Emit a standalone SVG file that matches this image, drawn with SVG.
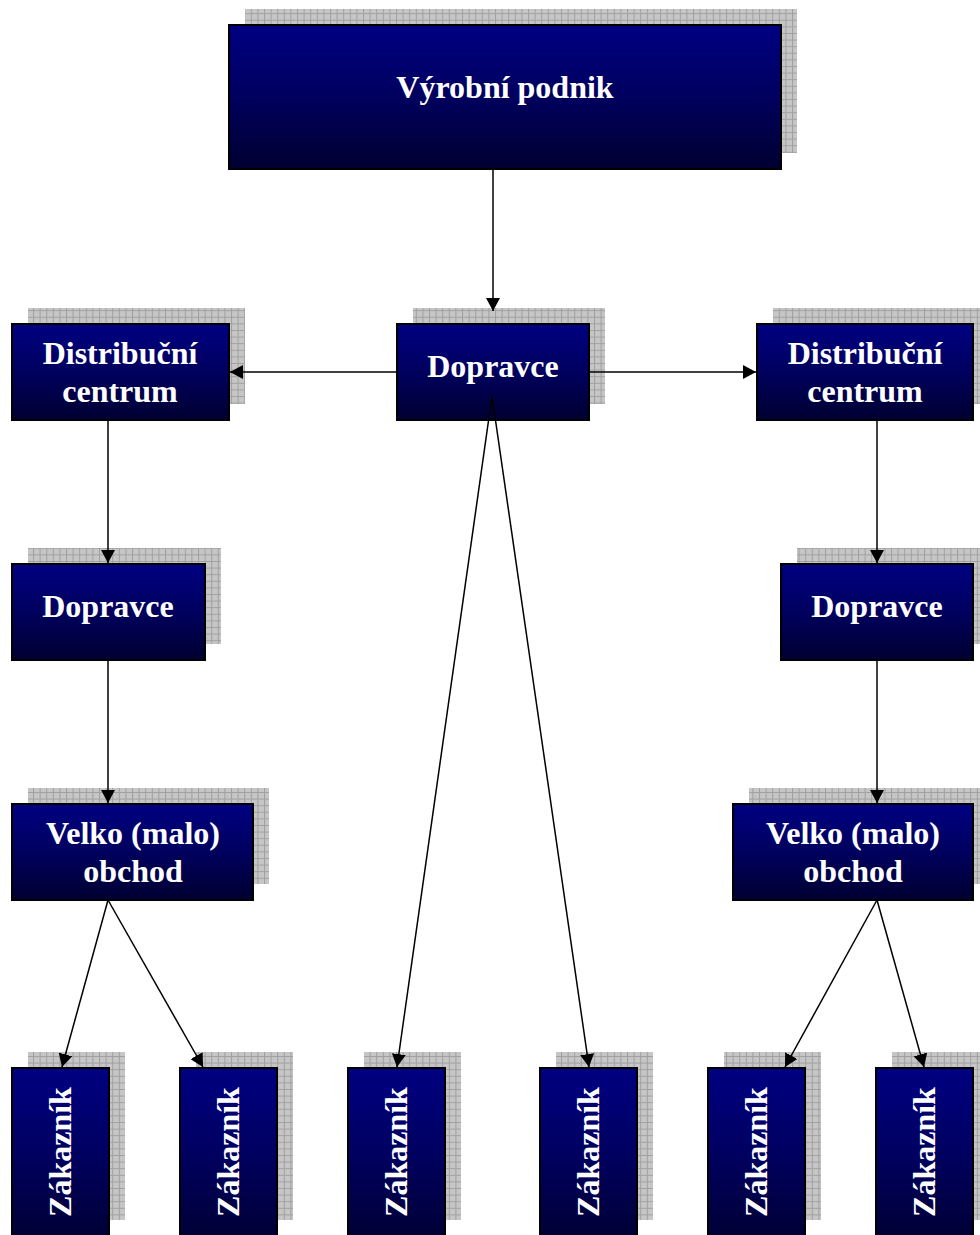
<svg xmlns="http://www.w3.org/2000/svg" width="980" height="1235" viewBox="0 0 980 1235">
  <style>
    .box { fill: url(#navy); stroke: #000; stroke-width: 2; }
    .shadow { fill: url(#grid); }
    .lbl { font-family: "Liberation Serif", "Times New Roman", serif; font-weight: bold; font-size: 32px; fill: #fff; text-anchor: middle; }
    .conn { stroke: #000; stroke-width: 1.5; fill: none; marker-end: url(#arrow); }
  </style>
  <defs>
    <linearGradient id="navy" x1="0" y1="0" x2="0" y2="1">
      <stop offset="0" stop-color="#000082"/>
      <stop offset="0.5" stop-color="#00005e"/>
      <stop offset="1" stop-color="#000030"/>
    </linearGradient>
    <pattern id="grid" width="6.6" height="6.6" patternUnits="userSpaceOnUse">
      <rect width="6.6" height="6.6" fill="#c6c6c6"/>
      <path d="M0 0.5H6.6M0.5 0V6.6" stroke="#a0a0a0" stroke-width="1"/>
    </pattern>
    <marker id="arrow" viewBox="0 0 13 14" refX="13" refY="7" markerWidth="13" markerHeight="14" markerUnits="userSpaceOnUse" orient="auto">
      <path d="M0 0L13 7L0 14z" fill="#000"/>
    </marker>
  </defs>
  <rect width="980" height="1235" fill="#fff"/>

  <!-- node shadows and boxes -->
  <g id="vyrobni-podnik">
    <rect class="shadow" x="245" y="9" width="552" height="144"/>
    <rect class="box" x="229" y="25" width="552" height="144"/>
    <text class="lbl" x="505" y="98">Výrobní podnik</text>
  </g>
  <g id="dopravce-stred">
    <rect class="shadow" x="413" y="308" width="192" height="96"/>
    <rect class="box" x="397" y="324" width="192" height="96"/>
  </g>
  <g id="distribucni-centrum-levy">
    <rect class="shadow" x="28" y="308" width="217" height="96"/>
    <rect class="box" x="12" y="324" width="217" height="96"/>
    <text class="lbl" x="120" y="364">Distribuční</text>
    <text class="lbl" x="120" y="402">centrum</text>
  </g>
  <g id="distribucni-centrum-pravy">
    <rect class="shadow" x="773" y="308" width="216" height="96"/>
    <rect class="box" x="757" y="324" width="216" height="96"/>
    <text class="lbl" x="865" y="364">Distribuční</text>
    <text class="lbl" x="865" y="402">centrum</text>
  </g>
  <g id="dopravce-levy">
    <rect class="shadow" x="28" y="548" width="193" height="96"/>
    <rect class="box" x="12" y="564" width="193" height="96"/>
    <text class="lbl" x="108" y="617">Dopravce</text>
  </g>
  <g id="dopravce-pravy">
    <rect class="shadow" x="797" y="548" width="192" height="96"/>
    <rect class="box" x="781" y="564" width="192" height="96"/>
    <text class="lbl" x="877" y="617">Dopravce</text>
  </g>
  <g id="obchod-levy">
    <rect class="shadow" x="28" y="788" width="241" height="96"/>
    <rect class="box" x="12" y="804" width="241" height="96"/>
    <text class="lbl" x="133" y="844">Velko (malo)</text>
    <text class="lbl" x="133" y="882">obchod</text>
  </g>
  <g id="obchod-pravy">
    <rect class="shadow" x="749" y="788" width="240" height="96"/>
    <rect class="box" x="733" y="804" width="240" height="96"/>
    <text class="lbl" x="853" y="844">Velko (malo)</text>
    <text class="lbl" x="853" y="882">obchod</text>
  </g>
  <g id="zakaznik-1">
    <rect class="shadow" x="28" y="1052" width="97" height="168"/>
    <rect class="box" x="12" y="1068" width="97" height="180"/>
    <text class="lbl" transform="translate(71 1152) rotate(-90)">Zákazník</text>
  </g>
  <g id="zakaznik-2">
    <rect class="shadow" x="196" y="1052" width="97" height="168"/>
    <rect class="box" x="180" y="1068" width="97" height="180"/>
    <text class="lbl" transform="translate(239 1152) rotate(-90)">Zákazník</text>
  </g>
  <g id="zakaznik-3">
    <rect class="shadow" x="364" y="1052" width="97" height="168"/>
    <rect class="box" x="348" y="1068" width="97" height="180"/>
    <text class="lbl" transform="translate(407 1152) rotate(-90)">Zákazník</text>
  </g>
  <g id="zakaznik-4">
    <rect class="shadow" x="556" y="1052" width="97" height="168"/>
    <rect class="box" x="540" y="1068" width="97" height="180"/>
    <text class="lbl" transform="translate(599 1152) rotate(-90)">Zákazník</text>
  </g>
  <g id="zakaznik-5">
    <rect class="shadow" x="724" y="1052" width="97" height="168"/>
    <rect class="box" x="708" y="1068" width="97" height="180"/>
    <text class="lbl" transform="translate(767 1152) rotate(-90)">Zákazník</text>
  </g>
  <g id="zakaznik-6">
    <rect class="shadow" x="892" y="1052" width="97" height="168"/>
    <rect class="box" x="876" y="1068" width="97" height="180"/>
    <text class="lbl" transform="translate(935 1152) rotate(-90)">Zákazník</text>
  </g>

  <!-- connectors -->
  <g id="connectors">
    <line class="conn" x1="493" y1="169" x2="493" y2="311"/>
    <line class="conn" x1="397" y1="372" x2="230" y2="372"/>
    <line class="conn" x1="589" y1="372" x2="756" y2="372"/>
    <line class="conn" x1="108" y1="420" x2="108" y2="563"/>
    <line class="conn" x1="877" y1="420" x2="877" y2="563"/>
    <line class="conn" x1="108" y1="900" x2="62" y2="1067"/>
    <line class="conn" x1="108" y1="900" x2="203" y2="1067"/>
    <line class="conn" x1="108" y1="660" x2="108" y2="803"/>
    <line class="conn" x1="877" y1="660" x2="877" y2="803"/>
    <line class="conn" x1="492" y1="396" x2="397" y2="1067"/>
    <line class="conn" x1="492" y1="396" x2="589" y2="1067"/>
    <line class="conn" x1="877" y1="900" x2="785" y2="1067"/>
    <line class="conn" x1="877" y1="900" x2="924" y2="1067"/>
  </g>

  <!-- centre carrier label drawn above its outgoing lines -->
  <g id="dopravce-stred-label">
    <text class="lbl" x="493" y="377">Dopravce</text>
  </g>
</svg>
